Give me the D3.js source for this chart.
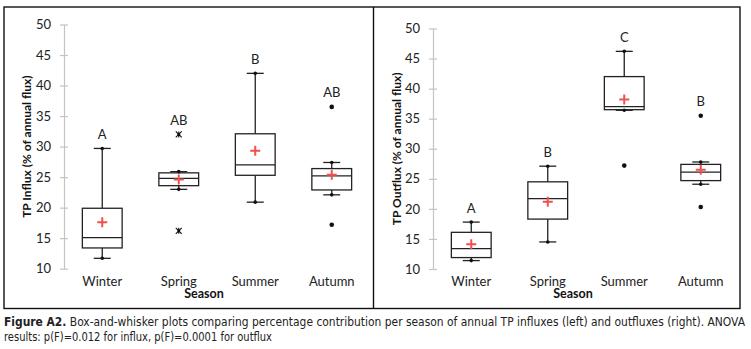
<!DOCTYPE html>
<html>
<head>
<meta charset="utf-8">
<script src="https://cdn.jsdelivr.net/npm/d3@7"></script>
<style>
  body { margin: 0; background: #fff; }
  svg { display: block; }
</style>
</head>
<body>
<div id="chart"></div>
<script>
// seasons along the x axis
const seasons = ["Winter", "Spring", "Summer", "Autumn"];
const yTicks = [10, 15, 20, 25, 30, 35, 40, 45, 50];

// influx box stats: [whisker low, q1, median, q3, whisker high], mean
const influxBoxes = [
  [11.7, 13.4, 15.1, 19.9, 29.7],
  [23.0, 23.6, 24.8, 25.7, 25.9],
  [20.9, 25.3, 27.0, 32.1, 42.0],
  [22.1, 22.9, 25.2, 26.4, 27.4]
];
const influxMeans = [17.6, 24.6, 29.3, 25.4];
const influxOutliers = [[], [32.0, 16.2], [], [36.5, 17.2]];
const influxOutlierStar = [false, true, false, false];
const influxLetters = ["A", "AB", "B", "AB"];

// outflux box stats
const outfluxBoxes = [
  [11.4, 11.9, 13.4, 16.1, 17.8],
  [14.5, 18.3, 21.7, 24.5, 27.1],
  [36.4, 36.5, 37.0, 42.0, 46.2],
  [24.1, 24.7, 26.1, 27.4, 27.8]
];
const outfluxMeans = [14.1, 21.2, 38.2, 26.5];
const outfluxOutliers = [[], [], [27.2], [35.5, 20.3]];
const outfluxOutlierStar = [false, false, false, false];
const outfluxLetters = ["A", "B", "C", "B"];

const width = 751, height = 349;
const font = "Lato, 'Open Sans', sans-serif";

const svg = d3.select("#chart").append("svg")
  .attr("width", width)
  .attr("height", height);

// panel frames
svg.append("rect")
  .attr("x", 4).attr("y", 7).attr("width", 736).attr("height", 301.5)
  .attr("fill", "none").attr("stroke", "#111").attr("stroke-width", 1.4);
svg.append("line")
  .attr("x1", 373.5).attr("x2", 373.5).attr("y1", 7).attr("y2", 308.5)
  .attr("stroke", "#111").attr("stroke-width", 1.4);

function drawPanel(opts) {
  const x = d3.scaleBand().domain(seasons)
    .range([opts.x0, opts.x0 + 306])
    .paddingInner(0.48).paddingOuter(0.24);
  const y = d3.scaleLinear().domain([10, 50]).range(opts.yRange);
  const g = svg.append("g");

  // y axis: light grey line with ticks straddling it
  const axis = g.append("g")
    .attr("transform", `translate(${opts.x0},0)`)
    .call(d3.axisLeft(y).tickValues(yTicks).tickSize(0).tickPadding(13));
  axis.select(".domain").attr("stroke", "#c4c4c4").attr("stroke-width", 1.2);
  axis.selectAll(".tick").append("line")
    .attr("x1", -4).attr("x2", 4)
    .attr("stroke", "#c4c4c4").attr("stroke-width", 1.2);
  axis.selectAll(".tick text")
    .attr("font-family", font).attr("font-size", 13).attr("fill", "#222");

  // axis title
  g.append("text")
    .attr("transform", `translate(${opts.titleX},${(opts.yRange[0] + opts.yRange[1]) / 2}) rotate(-90)`)
    .attr("text-anchor", "middle").attr("dy", "0.35em")
    .attr("font-family", font).attr("font-size", 12).attr("font-weight", "bold")
    .attr("fill", "#111")
    .text(opts.title);

  // category labels
  g.selectAll(".cat").data(seasons).enter().append("text")
    .attr("x", d => x(d) + x.bandwidth() / 2)
    .attr("y", 286)
    .attr("text-anchor", "middle")
    .attr("font-family", font).attr("font-size", 13).attr("fill", "#222")
    .text(d => d);

  g.append("text")
    .attr("x", opts.x0 + 153 - 13).attr("y", 298)
    .attr("text-anchor", "middle")
    .attr("font-family", font).attr("font-size", 12.5).attr("font-weight", "bold")
    .attr("fill", "#111")
    .text("Season");

  const cap = 8.5;
  seasons.forEach((s, i) => {
    const [lo, q1, med, q3, hi] = opts.boxes[i];
    const cx = x(s) + x.bandwidth() / 2;
    const bg = g.append("g").attr("stroke", "#222").attr("stroke-width", 1.3).attr("fill", "none");

    // whiskers
    bg.append("line").attr("x1", cx).attr("x2", cx).attr("y1", y(q3)).attr("y2", y(hi));
    bg.append("line").attr("x1", cx).attr("x2", cx).attr("y1", y(q1)).attr("y2", y(lo));
    [lo, hi].forEach(v => {
      bg.append("line").attr("x1", cx - cap).attr("x2", cx + cap).attr("y1", y(v)).attr("y2", y(v));
      g.append("circle").attr("cx", cx).attr("cy", y(v)).attr("r", 1.8).attr("fill", "#111");
    });

    // box and median
    bg.append("rect")
      .attr("x", x(s)).attr("width", x.bandwidth())
      .attr("y", y(q3)).attr("height", y(q1) - y(q3))
      .attr("fill", "#fff");
    bg.append("line").attr("x1", x(s)).attr("x2", x(s) + x.bandwidth())
      .attr("y1", y(med)).attr("y2", y(med));

    // mean
    const m = y(opts.means[i]);
    g.append("path")
      .attr("d", `M${cx - 5},${m}H${cx + 5}M${cx},${m - 5}V${m + 5}`)
      .attr("stroke", "#f0514c").attr("stroke-width", 2).attr("fill", "none");

    // outliers
    opts.outliers[i].forEach(v => {
      if (opts.star[i]) {
        const oy = y(v), r = 3;
        g.append("path")
          .attr("d", `M${cx - r},${oy - r}L${cx + r},${oy + r}M${cx - r},${oy + r}L${cx + r},${oy - r}M${cx},${oy - r}V${oy + r}`)
          .attr("stroke", "#111").attr("stroke-width", 1.1);
        g.append("circle").attr("cx", cx).attr("cy", oy).attr("r", 1.5).attr("fill", "#111");
      } else {
        g.append("circle").attr("cx", cx).attr("cy", y(v)).attr("r", 2.3).attr("fill", "#111");
      }
    });

    // significance letter above highest mark
    const top = d3.max([hi, ...opts.outliers[i]]);
    g.append("text")
      .attr("x", cx).attr("y", y(top) - 14).attr("dy", "0.35em")
      .attr("text-anchor", "middle")
      .attr("font-family", font).attr("font-size", 13).attr("fill", "#222")
      .text(opts.letters[i]);
  });
}

drawPanel({
  x0: 64, yRange: [268.7, 24.5], titleX: 27,
  title: "TP Influx (% of annual flux)",
  boxes: influxBoxes, means: influxMeans, outliers: influxOutliers,
  star: influxOutlierStar, letters: influxLetters
});

drawPanel({
  x0: 433, yRange: [269, 28.5], titleX: 397,
  title: "TP Outflux (% of annual flux)",
  boxes: outfluxBoxes, means: outfluxMeans, outliers: outfluxOutliers,
  star: outfluxOutlierStar, letters: outfluxLetters
});

// caption
const capFont = "'Liberation Sans Narrow', 'DejaVu Sans Condensed', 'Noto Sans', sans-serif";
const line1 = svg.append("text")
  .attr("x", 4).attr("y", 326)
  .attr("font-family", capFont).attr("font-size", 11.5).attr("fill", "#222")
  .attr("textLength", 741).attr("lengthAdjust", "spacingAndGlyphs");
line1.append("tspan").attr("font-weight", "bold").text("Figure A2.");
line1.append("tspan").text(" Box-and-whisker plots comparing percentage contribution per season of annual TP influxes (left) and outfluxes (right). ANOVA");

svg.append("text")
  .attr("x", 4).attr("y", 341)
  .attr("font-family", capFont).attr("font-size", 11.5).attr("fill", "#222")
  .attr("textLength", 268).attr("lengthAdjust", "spacingAndGlyphs")
  .text("results: p(F)=0.012 for influx, p(F)=0.0001 for outflux");
</script>
</body>
</html>
